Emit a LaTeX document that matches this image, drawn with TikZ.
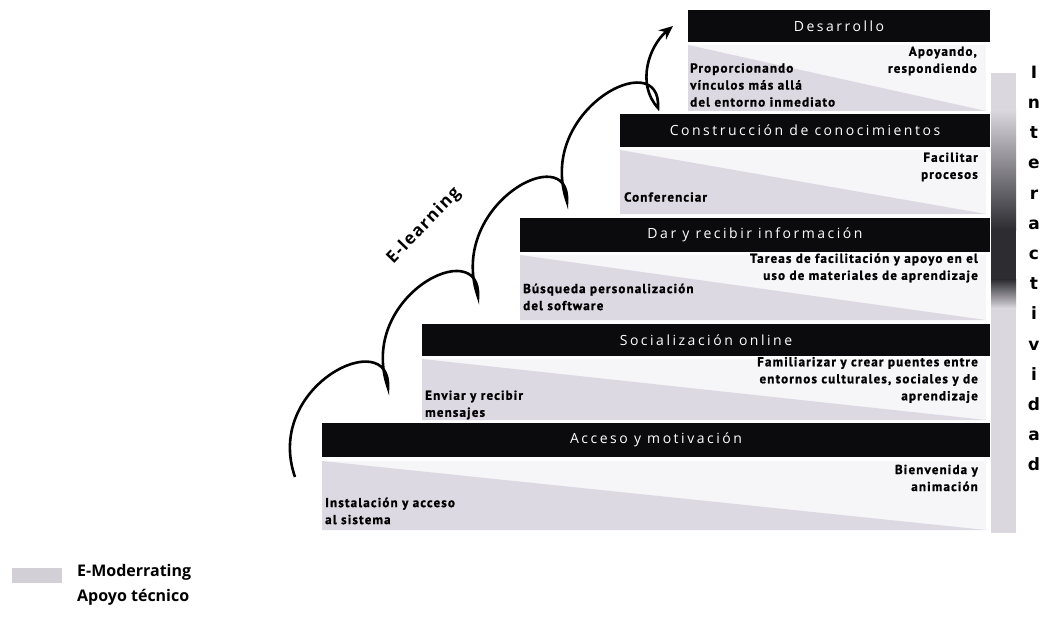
\documentclass[tikz,border=0pt]{standalone}
\usepackage{fontspec}
\setmainfont{Open Sans}
\newfontfamily\titlefont[LetterSpace=18]{Open Sans}
\newfontfamily\smallfont[LetterSpace=9,FakeBold=1.2]{PT Sans}
\newfontfamily\elfont[LetterSpace=8]{Open Sans}
\newfontfamily\interfont{DejaVu Sans}
\usetikzlibrary{arrows.meta}
\definecolor{barblack}{HTML}{0B0B0D}
\definecolor{wedge}{HTML}{DDD9E2}
\definecolor{paleblock}{HTML}{F6F5F8}
\definecolor{swatchgrey}{HTML}{D2CFD6}
\definecolor{interlight}{HTML}{DAD7DE}
\definecolor{interdark}{HTML}{2C2C31}
\tikzset{
  stagebar/.style={fill=barblack, draw=none, inner sep=0pt, text=white,
    font=\titlefont\fontsize{14}{16}\selectfont},
  lefttxt/.style={anchor=west, align=left, inner sep=0pt, text=black,
    font=\smallfont\bfseries\fontsize{13}{17}\selectfont},
  righttxt/.style={anchor=east, align=right, inner sep=0pt, text=black,
    font=\smallfont\bfseries\fontsize{13}{17}\selectfont},
  flowline/.style={line width=2.6pt, black, -{Stealth[length=14pt,width=12pt]}},
  legendtxt/.style={anchor=west, inner sep=0pt, font=\bfseries\fontsize{16}{18}\selectfont}
}
\begin{document}
\begin{tikzpicture}[x=1pt,y=-1pt]
\useasboundingbox (0,0) rectangle (1049,623);
\fill[white] (0,0) rectangle (1049,623);

% grey blocks below each bar
\fill[paleblock] (688,45) rectangle (986,111);
\fill[wedge] (688,45) -- (688,111) -- (986,111) -- cycle;
\fill[paleblock] (620,150) rectangle (986,214);
\fill[wedge] (620,150) -- (620,214) -- (986,214) -- cycle;
\fill[paleblock] (520,255) rectangle (986,320);
\fill[wedge] (520,255) -- (520,320) -- (986,320) -- cycle;
\fill[paleblock] (422,359) rectangle (986,420);
\fill[wedge] (422,359) -- (422,420) -- (986,420) -- cycle;
\fill[paleblock] (322,461) rectangle (986,530);
\fill[wedge] (322,461) -- (322,530) -- (986,530) -- cycle;

% black stage bars
\node[stagebar, minimum width=668pt, minimum height=34pt] (acc) at (656,440) {Acceso y motivación};
\node[stagebar, minimum width=568pt, minimum height=32pt] (soc) at (706,340) {Socialización online};
\node[stagebar, minimum width=470pt, minimum height=34pt] (dar) at (755,235) {Dar y recibir información};
\node[stagebar, minimum width=370pt, minimum height=33pt] (con) at (805,130.5) {Construcción de conocimientos};
\node[stagebar, minimum width=302pt, minimum height=32pt] (des) at (839,26) {Desarrollo};

% texts in the grey blocks
\node[lefttxt] (desl) at (690,85) {Proporcionando\\vínculos más allá\\del entorno inmediato};
\node[righttxt] (desr) at (977,61) {Apoyando,\\respondiendo};
\node[lefttxt] (conl) at (624,197) {Conferenciar};
\node[righttxt] (conr) at (978,167) {Facilitar\\procesos};
\node[lefttxt] (darl) at (523,297) {Búsqueda personalización\\del software};
\node[righttxt] (darr) at (978,268) {Tareas de facilitación y apoyo en el\\uso de materiales de aprendizaje};
\node[lefttxt] (socl) at (425,405) {Enviar y recibir\\mensajes};
\node[righttxt] (socr) at (978,380) {Familiarizar y crear puentes entre\\entornos culturales, sociales y de\\aprendizaje};
\node[lefttxt] (accl) at (325,511) {Instalación y acceso\\al sistema};
\node[righttxt] (accr) at (978,478) {Bienvenida y\\animación};

% interactividad bar
\fill[interlight] (991,73) rectangle (1016,533);
\shade[top color=interlight, bottom color=interdark] (991,110) rectangle (1016,230);
\fill[interdark] (991,229.5) rectangle (1016,280);
\shade[top color=interdark, bottom color=interlight] (991,279.5) rectangle (1016,308);
\node[align=center, inner sep=0pt, font=\interfont\bfseries\fontsize{17}{30.2}\selectfont] (inter) at (1034,268.5)
  {I\\n\\t\\e\\r\\a\\c\\t\\i\\v\\i\\d\\a\\d};

% e-learning scalloped arrow
\coordinate (c0) at (295,477);
\coordinate (c1) at (388,388);
\coordinate (c2) at (478,297);
\coordinate (c3) at (567,202);
\coordinate (c4) at (658,108);
\coordinate (c5) at (673,26);
\draw[flowline] (c0) .. controls +(-32,-92) and +(4,-64) .. (c1)
  .. controls +(-32,-92) and +(4,-64) .. (c2)
  .. controls +(-32,-92) and +(4,-64) .. (c3)
  .. controls +(-32,-92) and +(4,-64) .. (c4)
  .. controls +(-22,-24) and +(-24,20) .. (c5);
\node[rotate=46, inner sep=0pt, font=\elfont\bfseries\fontsize{17}{19}\selectfont] (elearn) at (424,226) {E-learning};

% legend
\node[fill=swatchgrey, draw=none, minimum width=50pt, minimum height=15pt, inner sep=0pt] (sw) at (37,575) {};
\node[legendtxt] (lg1) at (77,572) {E-Moderrating};
\node[legendtxt] (lg2) at (77,597) {Apoyo técnico};
\end{tikzpicture}
\end{document}
